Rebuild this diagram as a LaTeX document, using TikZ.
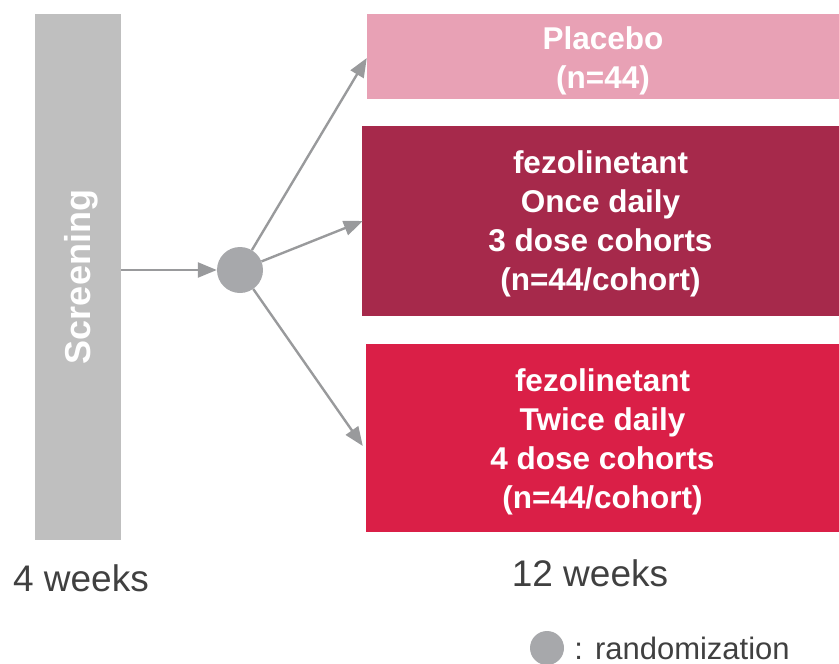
\documentclass[tikz,border=0pt]{standalone}
\usepackage{fontspec}
\setmainfont{Liberation Sans}
\usetikzlibrary{arrows.meta,positioning}
\definecolor{scrgray}{HTML}{BFBFBF}
\definecolor{randgray}{HTML}{A7A8AB}
\definecolor{arrgray}{HTML}{999A9C}
\definecolor{plapink}{HTML}{E8A1B5}
\definecolor{oncered}{HTML}{A6294B}
\definecolor{twicered}{HTML}{DA1F47}
\definecolor{txtgray}{HTML}{404040}
\begin{document}
\begin{tikzpicture}[x=1pt,y=-1pt,
  armbox/.style={minimum width=472pt,inner sep=0pt,text=white,align=center,
    font=\fontsize{31.5}{39}\selectfont\bfseries},
  randarrow/.style={draw=arrgray,line width=2.4pt,-{Triangle[length=19pt,width=15pt]},arrgray},
  weeklabel/.style={text=txtgray,font=\fontsize{37}{42}\selectfont}]
\useasboundingbox (0,0) rectangle (839,664);
% screening bar
\fill[scrgray] (35,14) rectangle (121,540);
\node[rotate=90,text=white,font=\fontsize{36}{40}\selectfont\bfseries] (screen) at (81,277) {Screening};
\coordinate (scrR) at (121,270);
% randomization point
\node[circle,fill=randgray,minimum size=46pt,inner sep=0pt] (rand) at (240,270) {};
% arms
\node[armbox,fill=plapink,minimum height=85pt] (placebo) at (603,56.5) {};
\node[armbox] (placebotxt) at ([yshift=-4pt]placebo.center) {Placebo\\(n=44)};
\node[armbox,fill=oncered,minimum width=477pt,minimum height=190pt] (fezqd) at (600.5,221) {};
\node[armbox] (fezqdtxt) at ([yshift=-3pt]fezqd.center) {fezolinetant\\Once daily\\3 dose cohorts\\(n=44/cohort)};
\node[armbox,fill=twicered,minimum width=473pt,minimum height=188pt] (fezbid) at (602.5,438) {};
\node[armbox] (fezbidtxt) at ([yshift=-4pt]fezbid.center) {fezolinetant\\Twice daily\\4 dose cohorts\\(n=44/cohort)};
% connectors
\draw[randarrow] (scrR) -- (rand);
\draw[randarrow] (rand) -- ([yshift=-1.5pt]placebo.west);
\draw[randarrow] (rand) -- ([xshift=1pt]fezqd.west);
\draw[randarrow] (rand) -- ([xshift=-3pt,yshift=-8pt]fezbid.west);
% durations
\node[weeklabel] (fourwk) at (81,578) {4 weeks};
\node[weeklabel] (twelvewk) at (590,573) {12 weeks};
% legend
\node[circle,fill=randgray,minimum size=34pt,inner sep=0pt] (legdot) at (547,648) {};
\node[right=10pt of legdot,text=txtgray,font=\fontsize{31}{36}\selectfont,inner sep=0pt] (legtext) {:\hspace{12pt}randomization};
\end{tikzpicture}
\end{document}
